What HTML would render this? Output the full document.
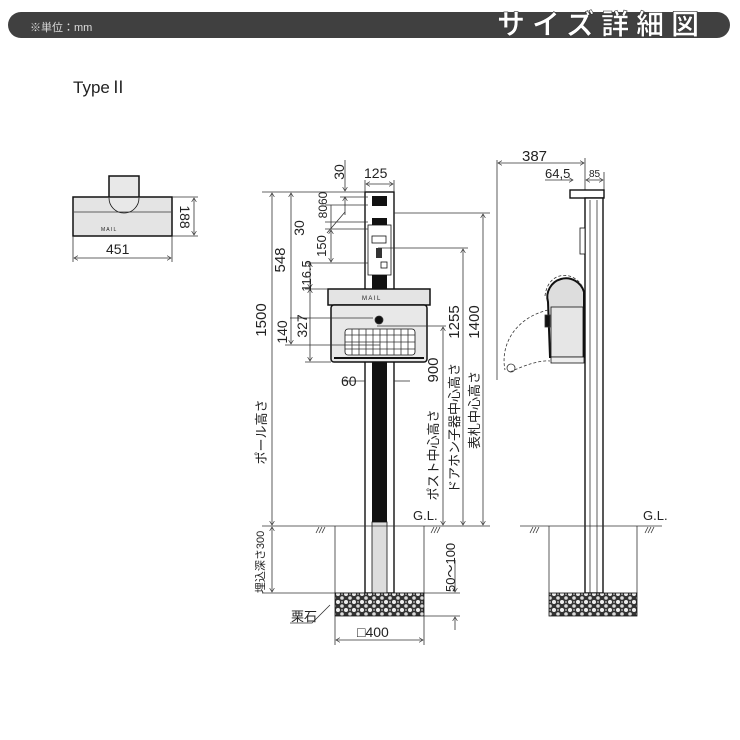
<!DOCTYPE html>
<html><head><meta charset="utf-8"><style>
body{margin:0;background:#fff}
svg{display:block}
text{font-family:"Liberation Sans","Noto Sans CJK JP",sans-serif;fill:#222}
</style></head><body>
<svg width="740" height="740" viewBox="0 0 740 740" xmlns="http://www.w3.org/2000/svg">
<defs>
<pattern id="grav" width="8" height="8" patternUnits="userSpaceOnUse">
<rect width="8" height="8" fill="#333"/>
<circle cx="2" cy="2" r="2" fill="#eee"/><circle cx="6" cy="6" r="1.8" fill="#ddd"/><circle cx="6" cy="2" r="1" fill="#aaa"/>
</pattern>
<marker id="a" markerWidth="6" markerHeight="6" refX="5" refY="3" orient="auto-start-reverse"><path d="M0,0 L5,3 L0,6" fill="none" stroke="#333" stroke-width="0.8"/></marker>
</defs>
<!-- header -->
<rect x="8" y="12" width="722" height="26" rx="13" fill="#404040"/>
<text x="30" y="31" font-size="11" style="fill:#ddd">※単位：mm</text>
<text x="497" y="34" font-size="28" font-weight="bold" style="fill:#fff;letter-spacing:7px;stroke:#333;stroke-width:0.6">サイズ詳細図</text>
<text x="73" y="93" font-size="17">TypeⅡ</text>

<g stroke="#333" stroke-width="0.8" fill="none">
<!-- plan view -->
<rect x="109" y="176" width="30" height="22" fill="#e8e8e8" stroke="#111" stroke-width="1.5"/>
<rect x="73" y="197" width="99" height="39" fill="#e4e4e4" stroke="#111" stroke-width="1.5"/>
<path d="M109,198 A15,15 0 0 0 139,198" fill="#e8e8e8" stroke="#111"/>
<line x1="74" y1="212" x2="171" y2="212"/>
<line x1="172" y1="197" x2="198" y2="197"/><line x1="172" y1="236" x2="198" y2="236"/>
<line x1="194" y1="198" x2="194" y2="235" marker-start="url(#a)" marker-end="url(#a)"/>
<line x1="73" y1="236" x2="73" y2="262"/><line x1="172" y1="236" x2="172" y2="262"/>
<line x1="74" y1="258" x2="171" y2="258" marker-start="url(#a)" marker-end="url(#a)"/>

<!-- front pole -->
<rect x="365" y="192" width="29" height="401" fill="#fff" stroke="#111" stroke-width="1.4"/>
<rect x="372" y="196" width="15" height="326" fill="#111" stroke="none"/>
<rect x="372" y="522" width="15" height="71" fill="#ddd" stroke="#111"/>
<rect x="368" y="206" width="23" height="12" fill="#fff" stroke="none"/>
<rect x="368" y="225" width="23" height="50" fill="#fff" stroke="#111"/>
<rect x="372" y="236" width="14" height="7" fill="#fff" stroke="#111"/>
<rect x="376" y="248" width="6" height="10" fill="#333" stroke="none"/>
<rect x="381" y="262" width="6" height="6" fill="#fff" stroke="#111"/>
<!-- mailbox front -->
<rect x="328" y="289" width="102" height="16" fill="#e4e4e4" stroke="#111" stroke-width="1.5"/>
<rect x="331" y="305" width="96" height="57" rx="3" fill="#e8e8e8" stroke="#111" stroke-width="1.5"/>
<circle cx="379" cy="320" r="4" fill="#111"/>
<rect x="345" y="329" width="70" height="26" rx="3" fill="#fff" stroke="#111"/>
<path d="M352,329V355M359,329V355M366,329V355M373,329V355M380,329V355M387,329V355M394,329V355M401,329V355M408,329V355M345,335H415M345,342H415M345,349H415"/>
<line x1="334" y1="358" x2="424" y2="358" stroke="#111" stroke-width="2"/>
<line x1="344" y1="381" x2="365" y2="381"/><line x1="394" y1="381" x2="410" y2="381"/>

<!-- left dims -->
<line x1="262" y1="192" x2="365" y2="192"/>
<line x1="272" y1="193" x2="272" y2="525" marker-start="url(#a)" marker-end="url(#a)"/>
<line x1="291" y1="193" x2="291" y2="344" marker-start="url(#a)" marker-end="url(#a)"/>
<line x1="285" y1="345" x2="380" y2="345"/>
<line x1="290" y1="318" x2="373" y2="318"/>
<line x1="310" y1="289" x2="310" y2="361" marker-start="url(#a)" marker-end="url(#a)"/>
<line x1="305" y1="362" x2="331" y2="362"/>
<line x1="305" y1="289" x2="328" y2="289"/>
<line x1="310" y1="263" x2="310" y2="288" marker-start="url(#a)" marker-end="url(#a)"/>
<line x1="305" y1="263" x2="368" y2="263"/>
<line x1="331" y1="230" x2="331" y2="262" marker-start="url(#a)" marker-end="url(#a)"/>
<line x1="325" y1="229" x2="368" y2="229"/>
<line x1="331" y1="222" x2="331" y2="229"/>
<line x1="325" y1="222" x2="368" y2="222"/>
<line x1="331" y1="205" x2="331" y2="222"/>
<line x1="325" y1="205" x2="368" y2="205"/>
<line x1="327" y1="233" x2="345" y2="212"/>
<line x1="345" y1="160" x2="345" y2="191" marker-end="url(#a)"/>
<line x1="345" y1="197" x2="345" y2="215" marker-start="url(#a)"/>
<line x1="340" y1="197" x2="368" y2="197"/>
<line x1="365" y1="180" x2="365" y2="192"/><line x1="394" y1="180" x2="394" y2="192"/>
<line x1="366" y1="184" x2="393" y2="184" marker-start="url(#a)" marker-end="url(#a)"/>

<!-- right dims -->
<line x1="394" y1="213" x2="490" y2="213"/>
<line x1="483" y1="214" x2="483" y2="525" marker-start="url(#a)" marker-end="url(#a)"/>
<line x1="378" y1="248" x2="468" y2="248"/>
<line x1="463" y1="249" x2="463" y2="525" marker-start="url(#a)" marker-end="url(#a)"/>
<line x1="377" y1="326" x2="446" y2="326"/>
<line x1="443" y1="327" x2="443" y2="525" marker-start="url(#a)" marker-end="url(#a)"/>

<!-- ground front -->
<line x1="262" y1="526" x2="490" y2="526"/>
<line x1="335" y1="526" x2="335" y2="593"/><line x1="424" y1="526" x2="424" y2="593"/>
<path d="M316,533l3,-6M319,533l3,-6M322,533l3,-6M431,533l3,-6M434,533l3,-6M437,533l3,-6"/>
<line x1="262" y1="593" x2="460" y2="593"/>
<line x1="272" y1="527" x2="272" y2="592" marker-start="url(#a)" marker-end="url(#a)"/>
<rect x="335" y="593" width="89" height="23" fill="url(#grav)" stroke="#111"/>
<line x1="424" y1="616" x2="460" y2="616"/>
<line x1="455" y1="560" x2="455" y2="592" marker-end="url(#a)"/>
<line x1="455" y1="617" x2="455" y2="630" marker-start="url(#a)"/>
<line x1="335" y1="616" x2="335" y2="645"/><line x1="424" y1="616" x2="424" y2="645"/>
<line x1="336" y1="640" x2="423" y2="640" marker-start="url(#a)" marker-end="url(#a)"/>
<path d="M290,623H312L330,605"/>

<!-- side view -->
<line x1="497" y1="160" x2="497" y2="380"/>
<line x1="498" y1="163" x2="584" y2="163" marker-start="url(#a)" marker-end="url(#a)"/>
<line x1="585" y1="158" x2="585" y2="198"/>
<line x1="604" y1="172" x2="604" y2="190"/>
<line x1="545" y1="180" x2="573" y2="180" marker-end="url(#a)"/>
<line x1="586" y1="180" x2="603" y2="180" marker-start="url(#a)" marker-end="url(#a)"/>
<rect x="570" y="190" width="34" height="8" fill="#fff" stroke="#111" stroke-width="1.4"/>
<rect x="585" y="198" width="18" height="395" fill="#fff" stroke="#111" stroke-width="1.4"/>
<line x1="590" y1="200" x2="590" y2="593"/><line x1="597" y1="200" x2="597" y2="593"/>
<rect x="580" y="228" width="5" height="26" fill="#fff" stroke="#111"/>
<path d="M548,302 A18,18 0 0 1 584,292 V357 H550 Z" fill="#ddd" stroke="#111" stroke-width="2"/>
<rect x="551" y="307" width="32" height="50" fill="#e6e6e6" stroke="#111"/>
<rect x="545" y="315" width="5" height="12" fill="#111"/>
<path d="M545,296 C548,270 575,270 583,288" stroke-dasharray="3,2"/>
<path d="M548,310 C515,318 500,345 505,370" stroke-dasharray="3,2"/>
<path d="M510,372 C525,365 540,360 550,361" stroke-dasharray="3,2"/>
<circle cx="511" cy="368" r="4"/>
<rect x="551" y="357" width="33" height="6" fill="#eee" stroke="#111"/>
<line x1="520" y1="526" x2="662" y2="526"/>
<line x1="549" y1="526" x2="549" y2="593"/><line x1="637" y1="526" x2="637" y2="593"/>
<path d="M530,533l3,-6M533,533l3,-6M536,533l3,-6M645,533l3,-6M648,533l3,-6M651,533l3,-6"/>
<rect x="549" y="593" width="88" height="23" fill="url(#grav)" stroke="#111"/>
</g>

<!-- labels -->
<g font-size="14">
<text x="106" y="254">451</text>
<text transform="translate(180,217) rotate(90)" text-anchor="middle">188</text>
<text x="101" y="231" font-size="5">M A I L</text>
<text x="364" y="178">125</text>
<text transform="translate(344,172) rotate(-90)" text-anchor="middle">30</text>
<text transform="translate(327,205) rotate(-90)" text-anchor="middle" font-size="12">8060</text>
<text transform="translate(304,228) rotate(-90)" text-anchor="middle">30</text>
<text transform="translate(326,246) rotate(-90)" text-anchor="middle" font-size="13">150</text>
<text transform="translate(311,276) rotate(-90)" text-anchor="middle" font-size="13">116.5</text>
<text transform="translate(285,260) rotate(-90)" text-anchor="middle" font-size="15">548</text>
<text transform="translate(266,320) rotate(-90)" text-anchor="middle" font-size="15">1500</text>
<text transform="translate(287,332) rotate(-90)" text-anchor="middle">140</text>
<text transform="translate(307,326) rotate(-90)" text-anchor="middle">327</text>
<text transform="translate(266,432) rotate(-90)" text-anchor="middle" font-size="13">ポール高さ</text>
<text transform="translate(264,562) rotate(-90)" text-anchor="middle" font-size="11">埋込深さ300</text>
<text x="341" y="386">60</text>
<text x="362" y="300" font-size="6">M A I L</text>
<text transform="translate(438,370) rotate(-90)" text-anchor="middle" font-size="15">900</text>
<text transform="translate(438,455) rotate(-90)" text-anchor="middle" font-size="13">ポスト中心高さ</text>
<text transform="translate(459,322) rotate(-90)" text-anchor="middle" font-size="15">1255</text>
<text transform="translate(459,428) rotate(-90)" text-anchor="middle" font-size="13">ドアホン子器中心高さ</text>
<text transform="translate(479,322) rotate(-90)" text-anchor="middle" font-size="15">1400</text>
<text transform="translate(479,410) rotate(-90)" text-anchor="middle" font-size="13">表札中心高さ</text>
<text x="413" y="520" font-size="13">G.L.</text>
<text transform="translate(455,592) rotate(-90)" font-size="13">50～100</text>
<text x="291" y="621" font-size="13">栗石</text>
<text x="357" y="637">□400</text>
<text x="522" y="161" font-size="15">387</text>
<text x="545" y="178" font-size="13">64,5</text>
<text x="589" y="177" font-size="10">85</text>
<text x="643" y="520" font-size="13">G.L.</text>
</g>
</svg>
</body></html>
